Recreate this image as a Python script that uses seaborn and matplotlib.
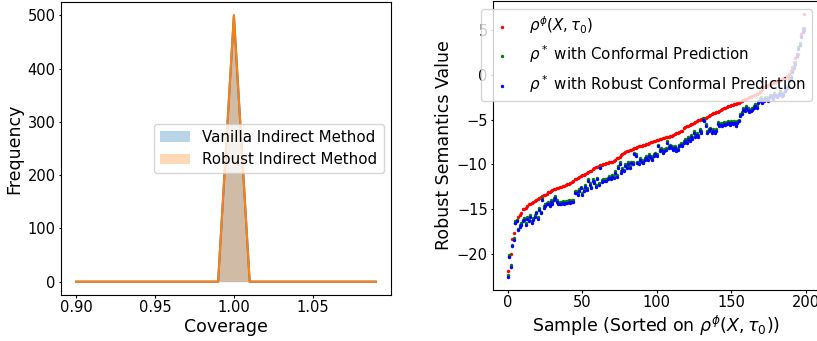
import numpy as np
import matplotlib
matplotlib.use("Agg")
import matplotlib.pyplot as plt
import seaborn as sns

# left panel: coverage histogram (as a curve)
coverage = [0.90, 0.91, 0.92, 0.93, 0.94, 0.95, 0.96, 0.97, 0.98, 0.99,
            1.00, 1.01, 1.02, 1.03, 1.04, 1.05, 1.06, 1.07, 1.08, 1.09]
freq_vanilla = [0, 0, 0, 0, 0, 0, 0, 0, 0, 0, 500, 0, 0, 0, 0, 0, 0, 0, 0, 0]
freq_robust = [0, 0, 0, 0, 0, 0, 0, 0, 0, 0, 500, 0, 0, 0, 0, 0, 0, 0, 0, 0]

# right panel: robust semantics values, sorted on rho_phi
rho_phi = [
    -21.9, -20.3, -20.0, -18.4, -17.7, -16.6, -16.2, -15.9, -15.7, -15.5,
    -15.0, -14.95, -14.9, -14.7, -14.5, -14.4, -14.3, -14.2, -14.1, -14.0,
    -13.9, -13.8, -13.7, -13.55, -13.45, -13.4, -13.3, -13.15, -13.05, -12.95,
    -12.9, -12.8, -12.75, -12.7, -12.6, -12.55, -12.5, -12.45, -12.4, -12.3,
    -12.25, -12.2, -12.1, -12.0, -11.85, -11.7, -11.6, -11.5, -11.4, -11.3,
    -11.2, -11.15, -11.1, -11.0, -10.9, -10.8, -10.7, -10.55, -10.45, -10.35,
    -10.25, -10.2, -10.1, -10.05, -10.0, -9.95, -9.9, -9.85, -9.8, -9.75,
    -9.7, -9.6, -9.5, -9.35, -9.25, -9.15, -9.0, -8.9, -8.75, -8.65,
    -8.55, -8.5, -8.4, -8.35, -8.3, -8.2, -8.15, -8.1, -8.0, -7.95,
    -7.9, -7.85, -7.8, -7.75, -7.7, -7.6, -7.55, -7.5, -7.45, -7.4,
    -7.3, -7.25, -7.2, -7.15, -7.1, -7.05, -7.0, -6.95, -6.9, -6.85,
    -6.8, -6.7, -6.6, -6.55, -6.5, -6.4, -6.3, -6.25, -5.95, -5.85,
    -5.75, -5.7, -5.6, -5.5, -5.45, -5.4, -5.3, -5.2, -5.1, -5.0,
    -4.95, -4.9, -4.85, -4.8, -4.7, -4.6, -4.5, -4.4, -4.3, -4.25,
    -4.2, -4.1, -4.0, -3.9, -3.8, -3.7, -3.65, -3.6, -3.5, -3.45,
    -3.4, -3.35, -3.3, -3.25, -3.2, -3.1, -3.0, -2.95, -2.85, -2.75,
    -2.7, -2.6, -2.5, -2.45, -2.4, -2.3, -2.2, -2.1, -2.0, -1.9,
    -1.8, -1.6, -1.4, -1.3, -1.2, -1.1, -1.0, -0.95, -0.9, -0.85,
    -0.8, -0.7, -0.65, -0.6, -0.5, -0.4, -0.3, -0.2, -0.1, 0.1,
    0.4, 0.9, 1.4, 1.9, 2.1, 2.3, 3.3, 4.6, 5.3, 6.8,
]
rho_cp = [
    -22.4, -20.2, -21.3, -19.0, -18.3, -16.4, -16.2, -17.2, -16.8, -16.6,
    -16.2, -16.0, -16.6, -15.9, -16.2, -15.7, -16.4, -16.0, -15.7, -15.3,
    -15.9, -14.9, -15.3, -13.8, -14.7, -14.5, -14.3, -14.2, -14.5, -14.0,
    -14.2, -13.8, -13.6, -14.0, -14.3, -14.2, -14.2, -14.1, -14.2, -14.1,
    -14.1, -14.0, -14.1, -14.0, -14.0, -13.0, -13.0, -13.2, -12.8, -12.5,
    -13.2, -12.8, -12.3, -12.7, -11.7, -12.1, -12.5, -11.7, -11.9, -12.3,
    -11.5, -12.1, -10.3, -11.8, -11.7, -11.7, -11.7, -11.5, -11.3, -11.5,
    -11.2, -11.3, -10.8, -11.2, -10.2, -9.8, -10.8, -10.4, -10.6, -10.0,
    -10.2, -9.8, -10.2, -9.7, -9.8, -8.7, -8.9, -9.7, -9.8, -9.3,
    -9.5, -9.7, -9.3, -9.1, -9.3, -8.9, -9.1, -9.3, -8.9, -8.7,
    -8.9, -7.8, -8.3, -8.2, -8.5, -8.3, -8.2, -7.4, -8.0, -7.8,
    -8.0, -8.2, -8.0, -8.3, -8.2, -7.8, -7.6, -7.8, -7.4, -7.2,
    -7.4, -7.0, -7.2, -6.7, -7.0, -6.3, -6.7, -6.5, -6.7, -6.1,
    -6.3, -4.8, -5.0, -5.5, -6.3, -6.1, -5.9, -6.3, -6.1, -6.3,
    -6.1, -5.3, -5.5, -5.4, -5.5, -5.3, -5.4, -5.3, -5.2, -5.4,
    -5.2, -5.3, -5.2, -5.5, -5.2, -5.0, -4.4, -4.2, -3.7, -3.8,
    -3.5, -3.7, -4.0, -3.8, -3.7, -3.5, -3.3, -3.5, -2.9, -2.7,
    -2.5, -2.9, -2.7, -2.5, -2.5, -2.7, -2.3, -2.2, -2.5, -2.0,
    -2.2, -2.3, -2.0, -1.8, -2.2, -2.0, -1.6, -1.4, -1.2, -0.5,
    -0.1, 0.5, 1.0, 1.4, 2.3, 3.1, 3.6, 4.4, 5.0, 5.2,
]
rho_rcp = [
    -22.6, -20.4, -21.5, -19.2, -18.5, -16.6, -16.4, -17.4, -17.0, -16.8,
    -16.4, -16.2, -16.8, -16.1, -16.4, -15.9, -16.6, -16.2, -15.9, -15.5,
    -16.1, -15.1, -15.5, -14.0, -14.9, -14.7, -14.5, -14.4, -14.7, -14.2,
    -14.4, -14.0, -13.8, -14.2, -14.5, -14.4, -14.4, -14.3, -14.4, -14.3,
    -14.3, -14.2, -14.3, -14.2, -14.2, -13.2, -13.2, -13.4, -13.0, -12.7,
    -13.4, -13.0, -12.5, -12.9, -11.9, -12.3, -12.7, -11.9, -12.1, -12.5,
    -11.7, -12.3, -10.4, -12.0, -11.9, -11.9, -11.9, -11.7, -11.5, -11.7,
    -11.4, -11.5, -11.0, -11.4, -10.4, -10.0, -11.0, -10.6, -10.8, -10.2,
    -10.4, -10.0, -10.4, -9.9, -10.0, -8.9, -9.1, -9.9, -10.0, -9.5,
    -9.7, -9.9, -9.5, -9.3, -9.5, -9.1, -9.3, -9.5, -9.1, -8.9,
    -9.1, -8.0, -8.5, -8.4, -8.7, -8.5, -8.4, -7.6, -8.2, -8.0,
    -8.2, -8.4, -8.2, -8.5, -8.4, -8.0, -7.8, -8.0, -7.6, -7.4,
    -7.6, -7.2, -7.4, -6.9, -7.2, -6.5, -6.9, -6.7, -6.9, -6.3,
    -6.5, -5.0, -5.2, -5.7, -6.5, -6.3, -6.1, -6.5, -6.3, -6.5,
    -6.3, -5.5, -5.7, -5.6, -5.7, -5.5, -5.6, -5.5, -5.4, -5.6,
    -5.4, -5.5, -5.4, -5.7, -5.4, -5.2, -4.6, -4.4, -3.9, -4.0,
    -3.7, -3.9, -4.2, -4.0, -3.9, -3.7, -3.5, -3.7, -3.1, -2.9,
    -2.7, -3.1, -2.9, -2.7, -2.7, -2.9, -2.5, -2.4, -2.7, -2.2,
    -2.4, -2.5, -2.2, -2.0, -2.4, -2.2, -1.8, -1.6, -1.4, -0.7,
    -0.3, 0.3, 0.8, 1.2, 2.1, 2.9, 3.4, 4.2, 4.8, 5.0,
]
sample = np.arange(len(rho_phi))

plt.rcParams["font.family"] = ["DejaVu Sans"]
fig = plt.figure(figsize=(8.17, 3.41), dpi=100)
ax1 = fig.add_axes([61 / 817, 46 / 341, 330 / 817, 293 / 341])
ax2 = fig.add_axes([493 / 817, 51 / 341, 326 / 817, 289 / 341])

# left
ax1.fill_between(coverage, freq_vanilla, color="C0", alpha=0.3, linewidth=0,
                 label="Vanilla Indirect Method")
sns.lineplot(x=coverage, y=freq_vanilla, color="C0", ax=ax1)
ax1.fill_between(coverage, freq_robust, color="C1", alpha=0.3, linewidth=0,
                 label="Robust Indirect Method")
sns.lineplot(x=coverage, y=freq_robust, color="C1", ax=ax1)
ax1.set_xticks([0.90, 0.95, 1.00, 1.05])
ax1.set_xlabel("Coverage", fontsize=12.5, labelpad=2)
ax1.set_ylabel("Frequency", fontsize=12.5, labelpad=3)
ax1.tick_params(labelsize=10.5, length=1.8, pad=2)
ax1.legend(loc="center right", fontsize=10.8)

# right
sns.scatterplot(x=sample, y=rho_phi, color="red", s=6, linewidth=0, ax=ax2,
                label=r"$\rho^{\phi}(X, \tau_0)$")
sns.scatterplot(x=sample, y=rho_cp, color="green", s=6, linewidth=0, ax=ax2,
                label=r"$\rho^*$ with Conformal Prediction")
sns.scatterplot(x=sample, y=rho_rcp, color="blue", s=6, linewidth=0, ax=ax2,
                label=r"$\rho^*$ with Robust Conformal Prediction")
ax2.set_xticks([0, 50, 100, 150, 200])
ax2.set_yticks([-20, -15, -10, -5, 0, 5])
ax2.set_xlabel(r"Sample (Sorted on $\rho^{\phi}(X, \tau_0)$)", fontsize=12.5, labelpad=2)
ax2.set_ylabel("Robust Semantics Value", fontsize=12.5, labelpad=3)
ax2.tick_params(labelsize=10.5, length=1.8, pad=2)
ax2.legend(loc="upper right", fontsize=10.8)

fig.savefig("out.png", dpi=100)
